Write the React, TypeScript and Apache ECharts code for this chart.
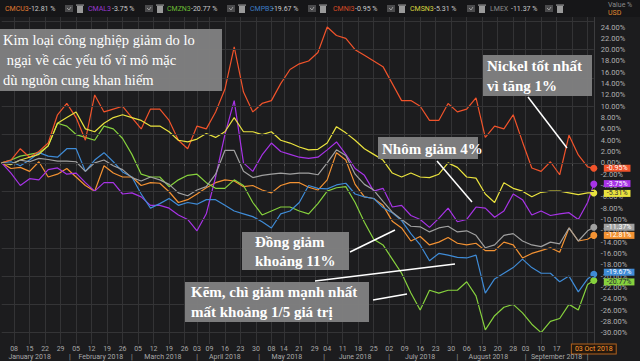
import React, { useEffect, useRef } from 'react';
import * as echarts from 'echarts';

// ---- data ----
const HOLIDAYS = ['2018-03-30', '2018-04-02', '2018-05-07', '2018-05-28', '2018-08-27'];
const MONTHS = ['January', 'February', 'March', 'April', 'May', 'June', 'July', 'August', 'September', 'October', 'November', 'December'];
const SAMPLE_STEP = 3;

const seriesNames = ['CMCU3', 'CMAL3', 'CMZN3', 'CMPB3', 'CMNI3', 'CMSN3', 'LMEX'];
const finalChanges = [-12.81, -3.75, -20.77, -19.67, -0.95, -5.31, -11.37];

const copperValues = [0, -1, -0.8, -1.5, 0.2, -2.5, -2, -1, -2.5, -4, -5, -0.5, -1.8, -2.5, -2.5, -4, -3.5, -3.6, -5.1, -7, -6.5, -5.5, -4.4, -3.5, -3, -3.2, -4.2, -4, -4.8, -5.3, -4, -3.5, -3.5, -4.3, -4.8, -3, 1.8, 0.5, -3.8, -6, -6.3, -7.5, -10.3, -11.5, -13.8, -13, -14.5, -14, -13.2, -14.2, -14.5, -14.2, -15.5, -15.5, -14, -14.5, -16.8, -16, -15.5, -15, -15.8, -11.5, -13.8, -13.5, -12.81];
const aluminiumValues = [0, -1.8, -4, -2.8, -3, -1.2, -0.9, -2, -1.8, -3.5, -5, -3.5, -3.5, -5.5, -5.3, -6, -7.5, -7.5, -8, -9.2, -10, -12, -9, -2.5, 5, 11, 0, -1.5, 1.4, 3.5, 2, 1.5, 1, 0.8, 1, 2.3, 3.7, 1.5, -1, -2.2, -5, -4.5, -7.8, -7.5, -9.3, -10, -11.4, -9.8, -8, -10.4, -10, -7.8, -8, -9.6, -8.5, -5.5, -6.5, -9.2, -8.5, -9.3, -9, -8.8, -10, -7, -3.75];
const zincValues = [0, 0.5, 1.2, 1.5, 1.8, 3, 7, 6.5, 5, 4.5, 4, 6.5, 6, 4.3, 1.5, -2, -2.5, -2.5, -4.2, -3, -2.2, -2, -3.5, -4.5, -4.5, -3, -4, -7, -9.2, -8.5, -7.8, -7.8, -8.5, -9, -7.2, -5, -4.4, -4.2, -7, -10.5, -13.5, -14.5, -17, -19.5, -23, -26, -22.5, -23, -22.5, -22.5, -21, -23.5, -29.5, -27, -25.5, -25, -26.5, -28.5, -30, -28, -27.5, -25, -26, -21.5, -20.77];
const leadValues = [0, 0.2, -0.5, 0.5, 1.8, 1.2, 1, 2.5, 2.5, -1.5, 0.5, 1.8, 0.2, -1.6, -2.5, -5.5, -8, -7.2, -6.3, -7.5, -7, -7.3, -6.5, -6.5, -7.5, -8.5, -9, -9.5, -10.4, -11.5, -9, -8.5, -7, -4, -4.5, -4.6, -3.9, -3.6, -5.5, -6, -6.3, -7.9, -8.8, -10.2, -12.5, -14.5, -17.3, -16, -16.3, -16.7, -16.8, -16.3, -23, -20.5, -19.5, -18.5, -17, -18.5, -19.5, -19.5, -21, -20, -22.8, -20.5, -19.67];
const nickelValues = [0, 0.5, 2.5, 1, 2, 3.5, 8.5, 10.5, 8, 4, 12, 9, 9.5, 10, 8, 6, 9.5, 9.5, 7.5, 4, 2.5, 6.5, 6, 9, 13, 20.5, 12.5, 9, 10.5, 11, 14, 16.5, 17.5, 18, 19.5, 24, 22.5, 22, 20, 19, 18, 17, 14, 11, 11, 10, 7.5, 7.5, 10.5, 9, 9.5, 11.5, 4.5, 6.5, 6, 8.5, 3.7, -0.9, -1.5, 0.2, -2.1, 4.9, 1.4, -0.7, -0.95];
const tinValues = [0, -0.3, 0.5, 1, 1.5, 3, 7, 8, 9, 6, 5.5, 7, 8, 8.5, 8, 7.5, 6.5, 6.5, 5.5, 4, 3.7, 4.2, 5.2, 4.5, 5.5, 8, 5.5, 5.5, 5, 5.5, 4, 3.5, 2.8, 2.3, 2.4, 3.5, 6.4, 5.3, 4, 2.5, 1.5, 0.5, -1.8, -2.5, -1.8, -2.5, -2.6, -2, 0, -0.8, -2.5, -2.7, -5.5, -7, -3.5, -4.5, -5, -6, -5.2, -5, -5, -5.3, -5.6, -5.3, -5.31];
const lmexValues = [0, -0.2, 0.5, 0.2, 0.8, 0.6, 0.3, 0.3, 0.2, -1.5, 0, 0.5, -0.5, -1.2, -2.6, -3.2, -2.5, -3, -3.8, -5.3, -5.8, -4.8, -4.2, -2, 2.2, 2.2, -1.5, -2.6, -2.2, -2, -1.8, -2, -1.8, -1.8, -2.1, 0, 2.3, 1.3, -2, -3.8, -4.8, -6.8, -8.7, -10, -11.2, -11.3, -12.2, -11.5, -11.2, -12.2, -12, -12.8, -15, -14.5, -12.8, -12.5, -13.8, -14.5, -14.8, -14, -14.3, -11.5, -13.8, -12, -11.37];

const gridLevels = [-30, -25, -20, -15, -10, -5, 0, 5, 10, 15, 20, 25];

// ---- styles / layout ----
const seriesValues = [copperValues, aluminiumValues, zincValues, leadValues, nickelValues, tinValues, lmexValues];
const lineColors = ['#f39233', '#a733e6', '#86d13d', '#3f8bd6', '#f0532b', '#e9e23e', '#a0a0a0'];
const legendColors = ['#e07a30', '#9b38d0', '#6cbc34', '#3d7cc4', '#d84a26', '#d8d23e', '#8a8a8a'];
const endTextColors = ['#fff', '#fff', '#223', '#fff', '#fff', '#333', '#fff'];
const endLabelOffsetY = [0, -0.5, 1.5, -2, 0, 0.5, 0];
const legendNameX = [5, 88, 167, 250, 333, 410, 490];
const legendValX = [29, 112, 191, 272, 355, 434, 511];
const legendIconX = [65, 145, 227, 308, 387, 467, 545];

function buildTradingDays(): string[] {
  const out: string[] = [];
  const d = new Date(Date.UTC(2018, 0, 2));
  const end = Date.UTC(2018, 9, 3);
  while (d.getTime() <= end) {
    const dow = d.getUTCDay();
    const s = d.toISOString().slice(0, 10);
    if (dow !== 0 && dow !== 6 && HOLIDAYS.indexOf(s) < 0) out.push(s);
    d.setUTCDate(d.getUTCDate() + 1);
  }
  return out;
}

const tradingDays = buildTradingDays();
const lastIdx = tradingDays.length - 1;
const sampleIdx = tradingDays.map((_, i) => i).filter((i) => i % SAMPLE_STEP === 0 || i === lastIdx);

const dow = (s: string) => new Date(s + 'T00:00:00Z').getUTCDay();
const isWeekStart = (i: number) => i > 0 && dow(tradingDays[i]) <= dow(tradingDays[i - 1]);
const showDayLabel = (i: number) => i === lastIdx || (isWeekStart(i) && i < lastIdx - 8);

const monthStart = new Set<number>();
const monthMid = new Set<number>();
(() => {
  const seenMid = new Set<number>();
  tradingDays.forEach((s, i) => {
    const m = Number(s.slice(5, 7)) - 1;
    const d = Number(s.slice(8, 10));
    if (i > 0 && Number(tradingDays[i - 1].slice(5, 7)) - 1 !== m) monthStart.add(i);
    if (d >= 15 && !seenMid.has(m)) {
      seenMid.add(m);
      if (m < 9) monthMid.add(i);
    }
  });
})();

function fmtPct(v: number) {
  return v.toFixed(2) + '%';
}

export default function App() {
  const ref = useRef<HTMLDivElement>(null);
  useEffect(() => {
    document.body.style.margin = '0';
    document.body.style.background = '#1c1c1e';
    if (!ref.current) return;
    const chart = echarts.init(ref.current, null, { renderer: 'svg' });

    const series: any[] = seriesNames.map((name, si) => {
      const vals = seriesValues[si];
      return {
        name,
        type: 'line',
        z: 3,
        symbol: 'none',
        showSymbol: true,
        showAllSymbol: true,
        lineStyle: { width: 1.2, color: lineColors[si] },
        itemStyle: { color: lineColors[si] },
        data: sampleIdx.map((ti, j) =>
          j === sampleIdx.length - 1
            ? { value: [ti, vals[j]], symbol: 'circle', symbolSize: 7 }
            : [ti, vals[j]]
        ),
        endLabel: {
          show: true,
          formatter: () => fmtPct(finalChanges[si]),
          distance: 10,
          offset: [0, endLabelOffsetY[si]],
          fontSize: 7,
          fontFamily: 'Roboto',
          lineHeight: 7,
          color: endTextColors[si],
          backgroundColor: lineColors[si],
          padding: [0, 3, 0, 3],
        },
        silent: true,
      };
    });

    series.unshift({
      name: 'grid',
      type: 'line',
      z: 1,
      data: [],
      silent: true,
      markLine: {
        silent: true,
        symbol: ['none', 'none'],
        label: { show: false },
        lineStyle: { color: '#343436', type: 'solid', width: 1 },
        data: gridLevels.map((v) => ({ yAxis: v })),
      },
    });

    const legendGraphics: any[] = [];
    seriesNames.forEach((name, i) => {
      const valText = finalChanges[i].toFixed(2) + ' %';
      legendGraphics.push({
        type: 'text', x: legendNameX[i], y: 9, z: 50,
        style: { text: name, fill: legendColors[i], font: '7px Roboto', verticalAlign: 'middle' },
      });
      legendGraphics.push({
        type: 'text', x: legendValX[i], y: 9, z: 50,
        style: { text: valText, fill: '#c8c8c8', font: '7px Roboto', verticalAlign: 'middle' },
      });
      const ix = legendIconX[i];
      legendGraphics.push({ type: 'rect', x: ix, y: 5, z: 50, shape: { width: 8, height: 7 }, style: { fill: '#4a4a4c' } });
      legendGraphics.push({ type: 'polyline', x: ix, y: 5, z: 51, shape: { points: [[2, 3], [4, 5], [6, 2]] }, style: { stroke: '#9a9a9a', lineWidth: 1, fill: null } });
      legendGraphics.push({ type: 'rect', x: ix + 12, y: 6, z: 50, shape: { width: 6, height: 7 }, style: { fill: '#9a9a9a' } });
      legendGraphics.push({ type: 'rect', x: ix + 11, y: 4.5, z: 50, shape: { width: 8, height: 1.2 }, style: { fill: '#9a9a9a' } });
    });

    const boxFill = 'rgba(128,128,128,0.97)';
    const serifBold = 'bold 15px "Liberation Serif", "DejaVu Serif", serif';
    const serifReg = '14.5px "Liberation Serif", "DejaVu Serif", serif';

    const annotations: any[] = [
      { type: 'rect', x: 0, y: 29, z: 60, shape: { width: 222, height: 62 }, style: { fill: boxFill } },
      {
        type: 'text', x: 3, y: 30, z: 61,
        style: { text: 'Kim loại công nghiệp giảm do lo\n ngại về các yếu tố vĩ mô mặc\ndù nguồn cung khan hiếm', fill: '#fff', font: serifReg, lineHeight: 20 },
      },
      { type: 'rect', x: 483, y: 55, z: 60, shape: { width: 109, height: 41 }, style: { fill: boxFill } },
      {
        type: 'text', x: 487, y: 56, z: 61,
        style: { text: 'Nickel tốt nhất\nvì tăng 1%', fill: '#fff', font: serifBold, lineHeight: 20 },
      },
      { type: 'rect', x: 378, y: 137, z: 60, shape: { width: 100, height: 22 }, style: { fill: boxFill } },
      {
        type: 'text', x: 382, y: 139, z: 61,
        style: { text: 'Nhôm giảm 4%', fill: '#fff', font: serifBold, lineHeight: 19 },
      },
      { type: 'rect', x: 242, y: 232, z: 60, shape: { width: 107, height: 38 }, style: { fill: boxFill } },
      {
        type: 'text', x: 255, y: 232, z: 61,
        style: { text: 'Đồng giảm\nkhoảng 11%', fill: '#fff', font: serifBold, lineHeight: 19 },
      },
      { type: 'rect', x: 185, y: 282, z: 60, shape: { width: 184, height: 40 }, style: { fill: boxFill } },
      {
        type: 'text', x: 191, y: 282, z: 61,
        style: { text: 'Kẽm, chì giảm mạnh nhất\nmất khoảng 1/5 giá trị', fill: '#fff', font: serifBold, lineHeight: 20 },
      },
      { type: 'line', z: 62, shape: { x1: 528, y1: 97, x2: 567, y2: 148 }, style: { stroke: '#fff', lineWidth: 1.5 } },
      { type: 'line', z: 62, shape: { x1: 437, y1: 161, x2: 472, y2: 202 }, style: { stroke: '#fff', lineWidth: 1.5 } },
      { type: 'line', z: 62, shape: { x1: 350, y1: 252, x2: 395, y2: 230 }, style: { stroke: '#fff', lineWidth: 1.5 } },
      { type: 'line', z: 62, shape: { x1: 315, y1: 281, x2: 455, y2: 264 }, style: { stroke: '#fff', lineWidth: 1.5 } },
      { type: 'line', z: 62, shape: { x1: 373, y1: 300, x2: 407, y2: 294 }, style: { stroke: '#fff', lineWidth: 1.5 } },
    ];

    const header: any[] = [
      { type: 'rect', x: 0, y: 0, z: 40, shape: { width: 640, height: 17 }, style: { fill: '#161618' } },
      { type: 'text', x: 608, y: 5, z: 50, style: { text: 'Value %', fill: '#8a8a8a', font: '7px Roboto', verticalAlign: 'middle' } },
      { type: 'text', x: 608, y: 13, z: 50, style: { text: 'USD', fill: '#e08a30', font: '7px Roboto', verticalAlign: 'middle' } },
    ];

    const option: any = {
      animation: false,
      backgroundColor: '#1c1c1e',
      grid: { left: 1.7, right: 46.2, top: 15.7, bottom: 16.7, containLabel: false },
      xAxis: [
        {
          type: 'category',
          data: tradingDays,
          boundaryGap: false,
          axisLine: { show: true, lineStyle: { color: '#4a4a4c' } },
          axisTick: { show: true, interval: (i: number) => isWeekStart(i), length: 3, lineStyle: { color: '#555' } },
          splitLine: { show: true, interval: (i: number) => isWeekStart(i), lineStyle: { color: '#333335', width: 1 } },
          axisLabel: {
            interval: (i: number) => showDayLabel(i),
            margin: 1,
            fontSize: 7,
            lineHeight: 8,
            fontFamily: 'Roboto',
            color: '#a8a8a8',
            formatter: (v: string, i: number) =>
              i === lastIdx ? '{hl|' + v.slice(8, 10) + ' ' + MONTHS[Number(v.slice(5, 7)) - 1].slice(0, 3) + ' ' + v.slice(0, 4) + '}' : v.slice(8, 10),
            rich: {
              hl: {
                color: '#ff9a2e',
                fontSize: 7,
                fontFamily: 'Roboto',
                backgroundColor: '#24180e',
                borderColor: '#b0601c',
                borderWidth: 1,
                padding: [1, 3, 1, 3],
              },
            },
          },
        },
        {
          type: 'category',
          data: tradingDays,
          boundaryGap: false,
          position: 'bottom',
          offset: 8,
          axisLine: { show: false },
          axisTick: { show: false },
          splitLine: { show: false },
          axisLabel: {
            interval: (i: number) => monthStart.has(i) || monthMid.has(i),
            margin: 1,
            fontSize: 7,
            lineHeight: 8,
            fontFamily: 'Roboto',
            color: '#a8a8a8',
            formatter: (v: string, i: number) =>
              monthMid.has(i) ? MONTHS[Number(v.slice(5, 7)) - 1] + ' ' + v.slice(0, 4) : '|',
          },
        },
      ],
      yAxis: {
        type: 'value',
        position: 'right',
        min: -32,
        max: 26,
        interval: 2,
        axisLine: { show: true, lineStyle: { color: '#3c3c3e' } },
        axisTick: { show: false },
        splitLine: { show: false },
        axisLabel: {
          margin: 7,
          fontSize: 7.5,
          fontFamily: 'Roboto',
          color: '#b0b0b0',
          formatter: (v: number) => (v === 26 || v === -32 ? '' : fmtPct(v)),
        },
      },
      graphic: { elements: [...header, ...legendGraphics, ...annotations] },
      series,
    };
    chart.setOption(option);
    return () => chart.dispose();
  }, []);
  return <div ref={ref} style={{ width: 640, height: 361 }} />;
}
